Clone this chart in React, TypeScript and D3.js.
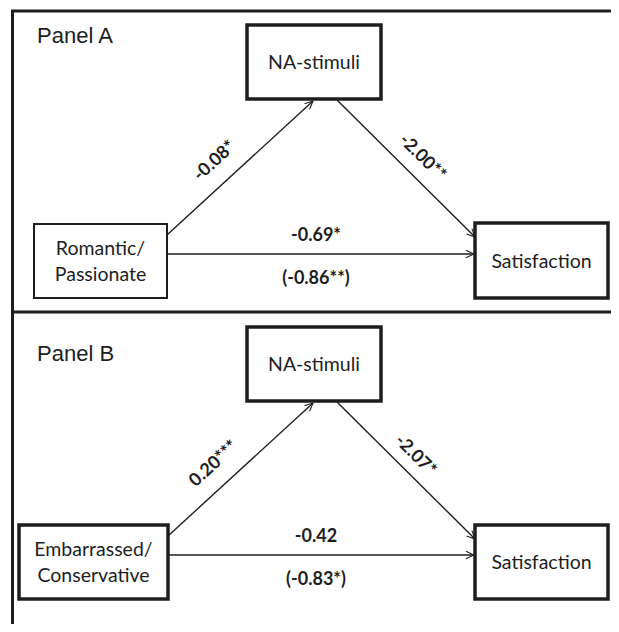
import React from "react";
import * as d3 from "d3";

// panel titles and node labels
const panels = ["Panel A", "Panel B"];
const mediatorLabels = ["NA-stimuli", "NA-stimuli"];
const predictorLabels = [["Romantic/", "Passionate"], ["Embarrassed/", "Conservative"]];
const outcomeLabels = ["Satisfaction", "Satisfaction"];

// path coefficients: a, b, c' and total effect c
const pathA = ["-0.08*", "0.20***"];
const pathB = ["-2.00**", "-2.07*"];
const pathDirect = ["-0.69*", "-0.42"];
const pathTotal = ["(-0.86**)", "(-0.83*)"];

const W = 619;
const H = 632;
const ink = "#1e1e1e";
const boxFont = "Lato, 'Open Sans', sans-serif";

// layout, one entry per panel (pixels)
const layout = [
  {
    top: 11,
    title: 43,
    med: [247, 25, 381, 99],
    pred: [34, 224, 167, 298],
    predStroke: 2,
    out: [475, 223, 608, 298],
    aLab: [0.43, 24],
    bLab: [0.52, 21],
  },
  {
    top: 312,
    title: 361,
    med: [247, 327, 381, 401],
    pred: [19, 525, 168, 599],
    predStroke: 3.5,
    out: [475, 525, 608, 599],
    aLab: [0.42, 24],
    bLab: [0.48, 19],
  },
];

const line = d3.line();

// place a label along a segment at fraction t, shifted d px to the left-hand normal
const along = (p0: number[], p1: number[], t: number, d: number) => {
  const dx = p1[0] - p0[0];
  const dy = p1[1] - p0[1];
  const len = Math.hypot(dx, dy);
  const ux = dx / len;
  const uy = dy / len;
  // normal pointing upward of the line
  let nx = uy;
  let ny = -ux;
  if (ny > 0) {
    nx = -nx;
    ny = -ny;
  }
  const x = p0[0] + dx * t + nx * d;
  const y = p0[1] + dy * t + ny * d;
  const ang = (Math.atan2(dy, dx) * 180) / Math.PI;
  return `translate(${x},${y}) rotate(${ang})`;
};

const Box = ({ r, sw, lines }: { r: number[]; sw: number; lines: string[] }) => {
  const cx = (r[0] + r[2]) / 2;
  const cy = (r[1] + r[3]) / 2;
  const lh = 26;
  return (
    <g>
      <rect x={r[0]} y={r[1]} width={r[2] - r[0]} height={r[3] - r[1]} fill="#fff" stroke={ink} strokeWidth={sw} />
      <text textAnchor="middle" fontFamily={boxFont} fontSize={19.5} fill={ink}>
        {lines.map((t, i) => (
          <tspan key={t} x={cx} y={cy + 7 - ((lines.length - 1) * lh) / 2 + i * lh}>
            {t}
          </tspan>
        ))}
      </text>
    </g>
  );
};

const App = () => {
  return (
    <svg width={W} height={H} style={{ display: "block", margin: "-8px", background: "#fff" }}>
      <defs>
        <marker id="arr" viewBox="0 0 10 10" refX="9.5" refY="5" markerWidth="9" markerHeight="9" markerUnits="userSpaceOnUse" orient="auto">
          <path d="M0.5,0.8 L9.5,5 L0.5,9.2" fill="none" stroke={ink} strokeWidth={1.2} />
        </marker>
      </defs>

      {/* outer frame: left edge, top edge and divider between panels */}
      <path d={`M12.5,${H} V${layout[0].top} H${W}`} fill="none" stroke={ink} strokeWidth={3} />
      <line x1={12.5} x2={W} y1={layout[1].top} y2={layout[1].top} stroke={ink} strokeWidth={3} />

      {panels.map((title, p) => {
        const L = layout[p];
        const { med, pred, out } = L;
        const aStart = [pred[2], pred[1] + 11];
        const aEnd = [313, med[3] + 2];
        const bStart = [337, med[3] + 1];
        const bEnd = [out[0], out[1] + 14];
        const cY = (pred[1] + pred[3]) / 2 - 7;
        const cx = 316;
        return (
          <g key={title}>
            <text x={37} y={L.title} fontFamily="'Liberation Sans', Arial, sans-serif" fontSize={22} fill={ink}>
              {title}
            </text>

            <path d={line([aStart, aEnd] as [number, number][]) || ""} stroke={ink} strokeWidth={1.4} markerEnd="url(#arr)" />
            <path d={line([bStart, bEnd] as [number, number][]) || ""} stroke={ink} strokeWidth={1.4} markerEnd="url(#arr)" />
            <path d={line([[pred[2], cY], [out[0] - 1, cY]]) || ""} stroke={ink} strokeWidth={1.4} markerEnd="url(#arr)" />

            <Box r={med} sw={3.5} lines={[mediatorLabels[p]]} />
            <Box r={pred} sw={L.predStroke} lines={predictorLabels[p]} />
            <Box r={out} sw={3.5} lines={[outcomeLabels[p]]} />

            <text
              transform={along(aStart, aEnd, L.aLab[0], L.aLab[1])}
              textAnchor="middle"
              dominantBaseline="central"
              fontFamily={boxFont}
              fontWeight="bold"
              fontSize={18}
              fill={ink}
            >
              {pathA[p]}
            </text>
            <text
              transform={along(bStart, bEnd, L.bLab[0], L.bLab[1])}
              textAnchor="middle"
              dominantBaseline="central"
              fontFamily={boxFont}
              fontWeight="bold"
              fontSize={18}
              fill={ink}
            >
              {pathB[p]}
            </text>
            <text x={cx} y={cY - 13} textAnchor="middle" fontFamily={boxFont} fontWeight="bold" fontSize={18} fill={ink}>
              {pathDirect[p]}
            </text>
            <text x={cx} y={cY + 30} textAnchor="middle" fontFamily={boxFont} fontWeight="bold" fontSize={18} fill={ink}>
              {pathTotal[p]}
            </text>
          </g>
        );
      })}
    </svg>
  );
};

export default App;
